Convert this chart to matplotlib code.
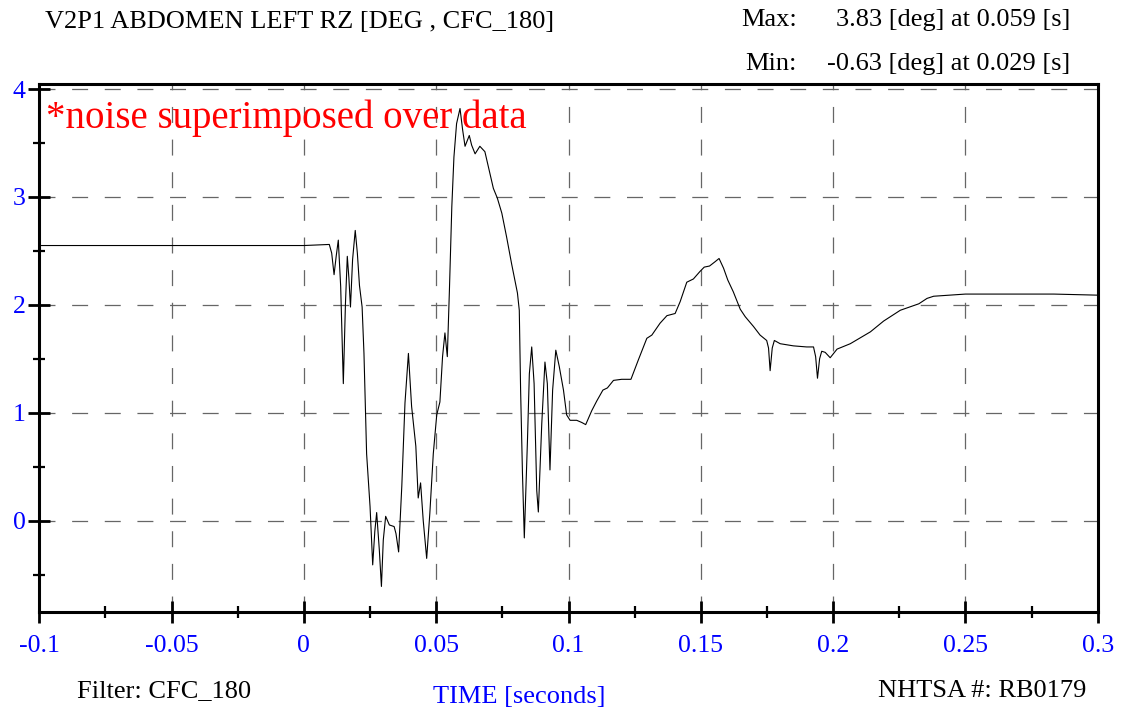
import numpy as np
import matplotlib
matplotlib.use('Agg')
from matplotlib import pyplot as plt
from matplotlib.ticker import MultipleLocator, FixedLocator

plt.rcParams['font.family'] = ['Liberation Serif', 'DejaVu Serif']
plt.rcParams['lines.scale_dashes'] = False

# time [s] and angle [deg]
time_s = [-0.1, 0.0, 0.0096, 0.0105, 0.0114, 0.0122, 0.0130, 0.0139, 0.0149,
          0.0157, 0.0164, 0.0170, 0.0176, 0.0184, 0.0194, 0.0202, 0.0210,
          0.0220, 0.0227, 0.0237, 0.0250, 0.0260, 0.0268, 0.0275, 0.0285,
          0.0293, 0.0300, 0.0309, 0.0323, 0.0341, 0.0348, 0.0358, 0.0370,
          0.0382, 0.0395, 0.0407, 0.0423, 0.0432, 0.0441, 0.0451, 0.0464,
          0.0476, 0.0489, 0.0502, 0.0514, 0.0524, 0.0533, 0.0542, 0.0550,
          0.0559, 0.0567, 0.0577, 0.0590, 0.0600, 0.0609, 0.0625, 0.0634,
          0.0647, 0.0665, 0.0684, 0.0697, 0.0716, 0.0731, 0.0748, 0.0766,
          0.0785, 0.0807, 0.0814, 0.0819, 0.0826, 0.0833, 0.0845, 0.0852,
          0.0861, 0.0870, 0.0880, 0.0886, 0.0899, 0.0911, 0.0920, 0.0930,
          0.0940, 0.0952, 0.0965, 0.0981, 0.0993, 0.1006, 0.1031, 0.1050,
          0.1065, 0.1088, 0.1107, 0.1130, 0.1147, 0.1170, 0.1201, 0.1236,
          0.1264, 0.1296, 0.1315, 0.1346, 0.1372, 0.1403, 0.1422, 0.1447,
          0.1472, 0.1497, 0.1513, 0.1533, 0.1554, 0.1569, 0.1586, 0.1602,
          0.1623, 0.1649, 0.1668, 0.1699, 0.1724, 0.1749, 0.1756, 0.1762,
          0.1770, 0.1778, 0.1800, 0.1825, 0.1850, 0.1900, 0.1926, 0.1934,
          0.1941, 0.1949, 0.1957, 0.1970, 0.1989, 0.2015, 0.2065, 0.2141,
          0.2191, 0.2254, 0.2324, 0.2355, 0.2380, 0.2500, 0.2607, 0.2834,
          0.3000]
angle_deg = [2.55, 2.55, 2.56, 2.48, 2.28, 2.45, 2.60, 2.17, 1.27,
             2.01, 2.45, 2.25, 1.98, 2.42, 2.69, 2.48, 2.18,
             1.98, 1.55, 0.62, 0.13, -0.41, -0.10, 0.075, -0.27,
             -0.61, -0.18, 0.04, -0.04, -0.055, -0.12, -0.29, 0.32,
             1.09, 1.55, 1.06, 0.69, 0.21, 0.35, 0.0, -0.35,
             0.07, 0.62, 0.98, 1.10, 1.52, 1.74, 1.52, 2.14,
             2.91, 3.37, 3.68, 3.82, 3.62, 3.47, 3.57, 3.48,
             3.40, 3.47, 3.42, 3.28, 3.08, 2.99, 2.85, 2.63,
             2.38, 2.11, 1.95, 1.21, 0.44, -0.16, 0.75, 1.36,
             1.61, 1.27, 0.28, 0.08, 0.90, 1.47, 1.27, 0.47,
             1.21, 1.58, 1.43, 1.21, 0.98, 0.93, 0.93, 0.91,
             0.89, 1.02, 1.11, 1.21, 1.23, 1.30, 1.31, 1.31,
             1.49, 1.69, 1.72, 1.83, 1.90, 1.92, 2.03, 2.21,
             2.24, 2.31, 2.35, 2.36, 2.40, 2.43, 2.34, 2.23,
             2.12, 1.96, 1.89, 1.80, 1.72, 1.67, 1.60, 1.39,
             1.60, 1.67, 1.64, 1.63, 1.62, 1.61, 1.61, 1.52,
             1.32, 1.50, 1.57, 1.56, 1.51, 1.59, 1.64, 1.75,
             1.85, 1.95, 2.01, 2.06, 2.08, 2.10, 2.10, 2.10,
             2.09]

x_ticks = [-0.1, -0.05, 0, 0.05, 0.1, 0.15, 0.2, 0.25, 0.3]
x_labels = ['-0.1', '-0.05', '0', '0.05', '0.1', '0.15', '0.2', '0.25', '0.3']
y_ticks = [0, 1, 2, 3, 4]
y_labels = ['0', '1', '2', '3', '4']

W, H = 1121, 708
fig = plt.figure(figsize=(W / 100, H / 100), dpi=100)
ax = fig.add_axes([39.3 / W, 1 - 611.8 / H, (1097.7 - 39.3) / W, (611.8 - 83.7) / H])

ax.plot(time_s, angle_deg, color='black', linewidth=0.8)

ax.set_xlim(-0.1, 0.3)
ax.set_ylim(-0.845, 4.05)

ax.xaxis.set_major_locator(FixedLocator(x_ticks))
ax.set_xticklabels(x_labels)
ax.xaxis.set_minor_locator(MultipleLocator(0.025))
ax.yaxis.set_major_locator(FixedLocator(y_ticks))
ax.set_yticklabels(y_labels)
ax.yaxis.set_minor_locator(MultipleLocator(0.5))

ax.tick_params(which='major', direction='inout', length=16, width=2,
               labelsize=18.5, labelcolor='blue', color='black')
ax.tick_params(which='minor', direction='inout', length=8.5, width=1.6)
ax.tick_params(axis='x', which='major', pad=9)
ax.tick_params(axis='y', which='major', pad=2)

for s in ax.spines.values():
    s.set_linewidth(2.2)

ax.grid(which='major', color='#666666', linewidth=0.9, linestyle=(0, (11.5, 12)))

fig.text(45 / W, 1 - 28 / H, 'V2P1 ABDOMEN LEFT RZ [DEG , CFC_180]',
         fontsize=19, va='baseline', ha='left')
fig.text(797 / W, 1 - 26 / H, 'Max:', fontsize=19, va='baseline', ha='right')
fig.text(1070 / W, 1 - 26 / H, '3.83 [deg] at 0.059 [s]', fontsize=19,
         va='baseline', ha='right')
fig.text(797 / W, 1 - 70 / H, 'Min:', fontsize=19, va='baseline', ha='right')
fig.text(1070 / W, 1 - 70 / H, '-0.63 [deg] at 0.029 [s]', fontsize=19,
         va='baseline', ha='right')

fig.text(46 / W, 1 - 128 / H, '*noise superimposed over data', fontsize=28,
         color='red', va='baseline', ha='left')

fig.text(77 / W, 1 - 697 / H, 'Filter: CFC_180', fontsize=19,
         va='baseline', ha='left')
fig.text(519 / W, 1 - 703 / H, 'TIME [seconds]', fontsize=19, color='blue',
         va='baseline', ha='center')
fig.text(1086 / W, 1 - 697 / H, 'NHTSA #: RB0179', fontsize=19,
         va='baseline', ha='right')

fig.savefig('out.png', dpi=100)
